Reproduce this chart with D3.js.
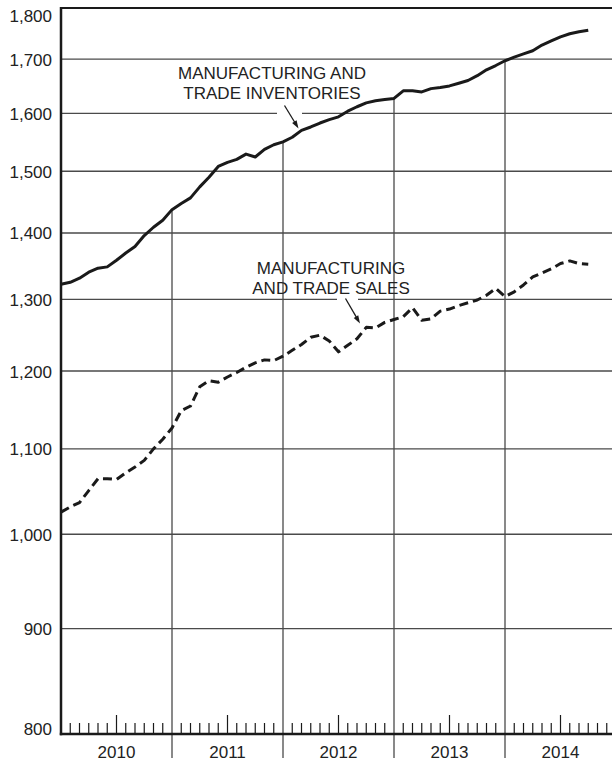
<!DOCTYPE html>
<html><head><meta charset="utf-8">
<script src="https://cdn.jsdelivr.net/npm/d3@7"></script>
<style>
body{margin:0;background:#fff}
svg{display:block;background:#fff}
</style>
</head><body>
<svg id="c" width="612" height="761"></svg>
<script>
// ---- data ----
const years = ["2010", "2011", "2012", "2013", "2014"];
const yTickValues = [800, 900, 1000, 1100, 1200, 1300, 1400, 1500, 1600, 1700, 1800];
// monthly, starting January 2010 (billions of dollars, seasonally adjusted)
const inventories = [1322,1325,1331,1340,1346,1348,1358,1369,1379,1396,1409,1420,
  1437,1447,1456,1474,1490,1508,1515,1520,1529,1524,1537,1545,
  1550,1558,1570,1576,1583,1589,1594,1604,1612,1619,1623,1625,
  1627,1641,1641,1639,1645,1647,1650,1655,1660,1669,1680,1688,
  1697,1704,1710,1716,1727,1735,1743,1749,1753,1756];
const sales = [1025,1031,1036,1050,1064,1064,1063,1071,1078,1086,1100,1112,
  1126,1148,1154,1179,1187,1185,1192,1198,1205,1211,1215,1214,
  1220,1228,1236,1246,1249,1241,1226,1235,1244,1260,1259,1267,
  1271,1275,1288,1270,1272,1283,1286,1291,1295,1299,1306,1316,
  1304,1311,1321,1333,1339,1345,1353,1357,1353,1352];
const inventoryLabel = ["MANUFACTURING AND", "TRADE INVENTORIES"];
const salesLabel = ["MANUFACTURING", "AND TRADE SALES"];

(function () {
// ---- layout ----
const pLeft = 61, pTop = 8, pBottom = 734, pRight = 612;
const FONT = "'Liberation Sans', Arial, Helvetica, sans-serif";
const ink = "#1a1a1a", grid = "#4a4a4a", textCol = "#222";

const svg = d3.select("#c");
const x = d3.scaleLinear().domain([0, years.length * 12]).range([pLeft, 616]);
const y = d3.scaleLog().domain([800, 1800]).range([pBottom, pTop]);

// horizontal grid
svg.append("g").selectAll("line")
  .data(yTickValues.filter(v => v > 800 && v < 1800)).join("line")
  .attr("x1", pLeft).attr("x2", pRight)
  .attr("y1", d => y(d)).attr("y2", d => y(d))
  .attr("stroke", grid).attr("stroke-width", 1.3);

// halos behind arrows (gaps in gridlines)
svg.append("rect").attr("x", 277).attr("y", y(1600) - 3).attr("width", 25).attr("height", 6).attr("fill", "#fff");
svg.append("rect").attr("x", 337).attr("y", y(1300) - 3).attr("width", 21).attr("height", 6).attr("fill", "#fff");

// vertical year boundaries, from the inventories line down below axis
const yearBounds = d3.range(1, years.length).map(i => i * 12);
svg.append("g").selectAll("line").data(yearBounds).join("line")
  .attr("x1", d => x(d)).attr("x2", d => x(d))
  .attr("y1", d => y(inventories[d])).attr("y2", 758)
  .attr("stroke", grid).attr("stroke-width", 1.3);

// month ticks
const monthTicks = d3.range(1, years.length * 12).filter(m => m % 12 !== 0);
svg.append("g").selectAll("line").data(monthTicks).join("line")
  .attr("x1", d => x(d)).attr("x2", d => x(d))
  .attr("y1", pBottom).attr("y2", d => d % 12 === 6 ? 715 : 723)
  .attr("stroke", ink).attr("stroke-width", 1.2);

// frame
svg.append("line").attr("x1", pLeft).attr("x2", pRight).attr("y1", pTop).attr("y2", pTop)
  .attr("stroke", ink).attr("stroke-width", 2.2);
svg.append("line").attr("x1", pLeft).attr("x2", pLeft).attr("y1", pTop - 1).attr("y2", pBottom + 1.2)
  .attr("stroke", ink).attr("stroke-width", 2.5);
svg.append("line").attr("x1", pLeft - 1.2).attr("x2", pRight).attr("y1", pBottom).attr("y2", pBottom)
  .attr("stroke", ink).attr("stroke-width", 2.5);

// y axis labels
const yAxis = svg.append("g").attr("transform", `translate(${pLeft},0)`)
  .call(d3.axisLeft(y).tickValues(yTickValues).tickFormat(d3.format(",")).tickSize(0).tickPadding(9));
yAxis.select(".domain").remove();
yAxis.attr("font-family", null).attr("font-size", null);
yAxis.selectAll("text")
  .attr("font-family", FONT).attr("font-size", 17).attr("fill", textCol)
  .attr("dy", d => d === 1800 ? 13.7 : d === 800 ? 0 : 6);

// year labels
svg.append("g").selectAll("text").data(years).join("text")
  .attr("x", (d, i) => x(i * 12 + 6)).attr("y", 758)
  .attr("text-anchor", "middle").attr("font-family", FONT).attr("font-size", 17)
  .attr("fill", textCol).text(d => d);

// lines
const line = d3.line().x((d, i) => x(i)).y(d => y(d));
svg.append("path").datum(inventories).attr("d", line)
  .attr("fill", "none").attr("stroke", ink).attr("stroke-width", 3)
  .attr("stroke-linejoin", "round");
svg.append("path").datum(sales).attr("d", line)
  .attr("fill", "none").attr("stroke", ink).attr("stroke-width", 3)
  .attr("stroke-dasharray", "9,5").attr("stroke-linejoin", "round");

// annotations
function label(lines, cx, y0) {
  svg.append("g").selectAll("text").data(lines).join("text")
    .attr("x", cx).attr("y", (d, i) => y0 + i * 19.5)
    .attr("text-anchor", "middle").attr("font-family", FONT).attr("font-size", 17)
    .attr("fill", textCol).text(d => d);
}
label(inventoryLabel, 272, 79);
label(salesLabel, 331, 274);

function arrow(x0, y0, x1, y1) {
  const dx = x1 - x0, dy = y1 - y0, L = Math.hypot(dx, dy);
  const ux = dx / L, uy = dy / L, px = -uy, py = ux;
  const hl = 8, hw = 2.6;
  const bx = x1 - ux * hl, by = y1 - uy * hl;
  svg.append("line").attr("x1", x0).attr("y1", y0).attr("x2", bx + ux).attr("y2", by + uy)
    .attr("stroke", ink).attr("stroke-width", 1.3);
  svg.append("path")
    .attr("d", `M${x1},${y1}L${bx + px * hw},${by + py * hw}L${bx - px * hw},${by - py * hw}Z`)
    .attr("fill", ink);
}
arrow(284.5, 105.5, 298.5, 128.5);
arrow(345.5, 298.5, 360, 323.5);
})();
</script>
</body></html>
